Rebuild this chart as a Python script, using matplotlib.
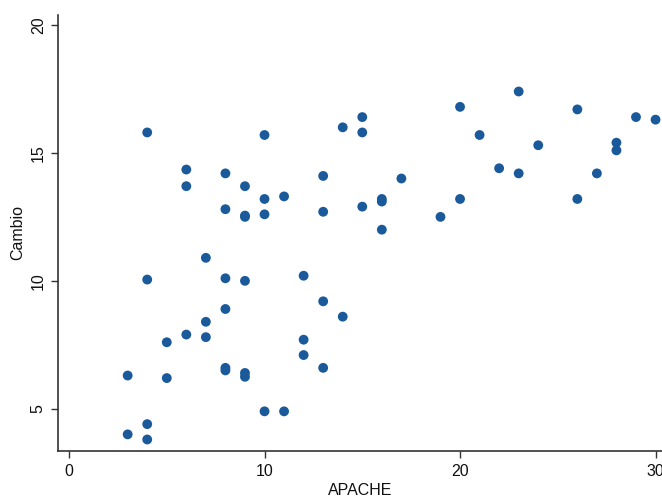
import matplotlib
matplotlib.use("Agg")
import matplotlib.pyplot as plt

apache = [3, 3, 4, 4, 4, 4, 5, 5, 6, 6, 6, 7, 7, 7,
          8, 8, 8, 8, 8, 8, 9, 9, 9, 9, 9, 9,
          10, 10, 10, 10, 11, 11, 12, 12, 12, 13, 13, 13, 13,
          14, 14, 15, 15, 15, 16, 16, 16, 17, 19, 20, 20, 21, 22,
          23, 23, 24, 26, 26, 27, 28, 28, 29, 30]
cambio = [6.3, 4.0, 15.8, 10.05, 4.4, 3.8, 7.6, 6.2, 14.35, 13.7, 7.9, 10.9, 8.4, 7.8,
          14.2, 12.8, 10.1, 8.9, 6.6, 6.5, 13.7, 12.55, 12.5, 10.0, 6.4, 6.25,
          15.7, 13.2, 12.6, 4.9, 13.3, 4.9, 10.2, 7.7, 7.1, 14.1, 12.7, 9.2, 6.6,
          16.0, 8.6, 16.4, 15.8, 12.9, 13.2, 13.1, 12.0, 14.0, 12.5, 16.8, 13.2, 15.7, 14.4,
          17.4, 14.2, 15.3, 16.7, 13.2, 14.2, 15.4, 15.1, 16.4, 16.3]

xticks = [0, 10, 20, 30]
yticks = [5, 10, 15, 20]

plt.rcParams['font.family'] = ['Liberation Sans', 'DejaVu Sans']

fig = plt.figure(figsize=(6.62, 5.0), dpi=100)
ax = fig.add_axes([0.088, 0.098, 0.912, 0.872])
ax.scatter(apache, cambio, s=50, color='#1a5a9a', edgecolors='none', zorder=3, clip_on=False)

ax.set_xlim(-0.55, 30.33)
ax.set_ylim(3.35, 20.39)
ax.set_xticks(xticks)
ax.set_yticks(yticks)
ax.set_yticklabels([str(t) for t in yticks], rotation=90, va='center')
ax.tick_params(axis='both', direction='out', length=5, width=1, color='#333333',
               labelsize=11.5, labelcolor='#111111', pad=4)
for s in ['top', 'right']:
    ax.spines[s].set_visible(False)
for s in ['left', 'bottom']:
    ax.spines[s].set_color('#333333')
    ax.spines[s].set_linewidth(1.2)

ax.set_xlabel('APACHE', fontsize=11.5, labelpad=3, color='#111111')
ax.set_ylabel('Cambio', fontsize=11.5, labelpad=4, color='#111111')

fig.savefig('out.png', dpi=100)
